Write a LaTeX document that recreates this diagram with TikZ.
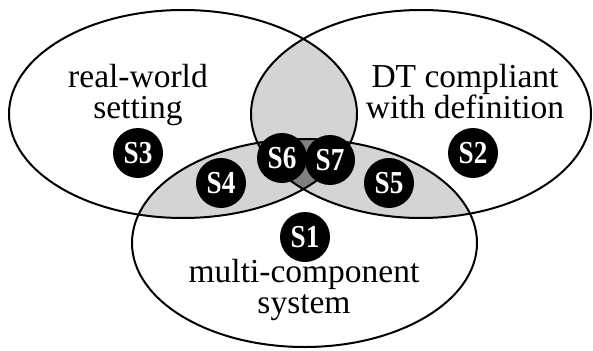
\documentclass[tikz,border=0pt]{standalone}
\usepackage{fontspec}
\setmainfont{Liberation Serif}
\definecolor{lightgrey}{HTML}{D4D4D4}
\definecolor{midgrey}{HTML}{808080}
\newcommand{\badgetxt}[1]{\scalebox{0.85}[1]{#1}}
\begin{document}
\begin{tikzpicture}[x=1pt,y=-1pt,
  outline/.style={draw=black, line width=2pt},
  badge/.style={circle, fill=black, text=white, minimum size=50pt, inner sep=0pt,
    font=\fontsize{32}{32}\bfseries\selectfont},
  lbl/.style={align=center, inner sep=0pt, font=\fontsize{33.5}{31}\selectfont}]
\useasboundingbox (0,0) rectangle (593,350);
\def\Lell{(183,114) ellipse [x radius=174pt, y radius=104pt]}
\def\Rell{(421,114) ellipse [x radius=170pt, y radius=104pt]}
\def\Bell{(304.5,243) ellipse [x radius=172.5pt, y radius=104pt]}
% pairwise intersections
\begin{scope}
  \clip \Lell;
  \fill[lightgrey] \Rell;
  \fill[lightgrey] \Bell;
\end{scope}
\begin{scope}
  \clip \Rell;
  \fill[lightgrey] \Bell;
\end{scope}
% triple intersection
\begin{scope}
  \clip \Lell;
  \clip \Rell;
  \fill[midgrey] \Bell;
\end{scope}
% outlines
\draw[outline] \Lell;
\draw[outline] \Rell;
\draw[outline] \Bell;
% labels
\node[lbl] (rw) at (138,95) {real-world\\setting};
\node[lbl] (dt) at (465,92) {DT compliant\\with definition};
\node[lbl] (mc) at (304,290) {multi-component\\system};
% badges
\node[badge] (s3) at (138,153) {\badgetxt{S3}};
\node[badge] (s2) at (473,153) {\badgetxt{S2}};
\node[badge] (s4) at (221,183) {\badgetxt{S4}};
\node[badge] (s5) at (389,183) {\badgetxt{S5}};
\node[badge] (s6) at (282,158) {\badgetxt{S6}};
\node[badge] (s7) at (330,160) {\badgetxt{S7}};
\node[badge] (s1) at (305,237) {\badgetxt{S1}};
\end{tikzpicture}
\end{document}
